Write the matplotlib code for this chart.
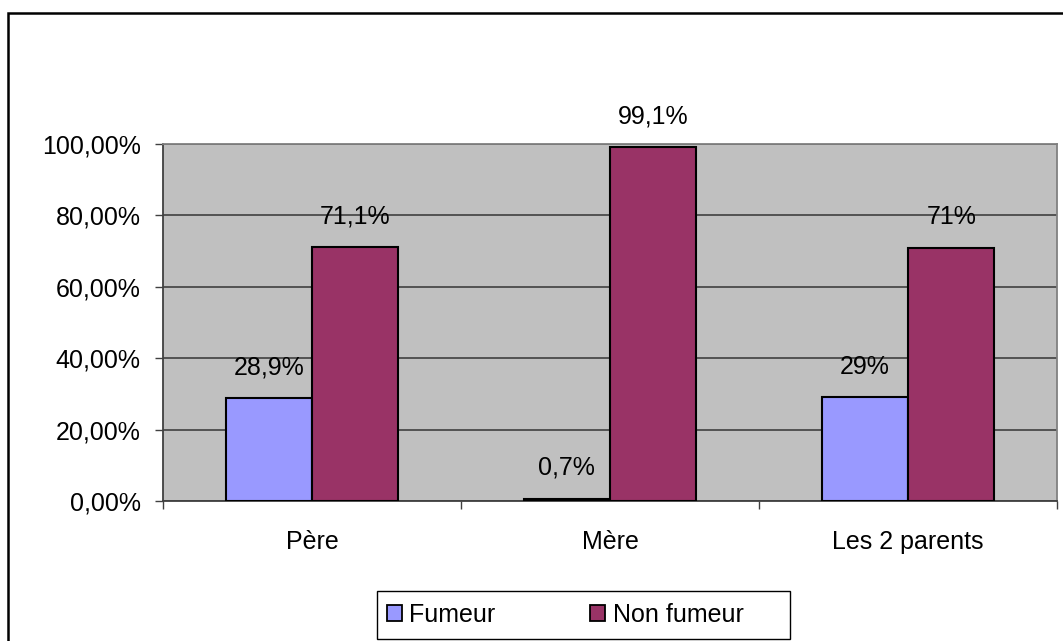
import numpy as np
import matplotlib
matplotlib.use("Agg")
import matplotlib.pyplot as plt
from matplotlib.patches import Patch, Rectangle

plt.rcParams['font.family'] = ['Liberation Sans', 'DejaVu Sans']

categories = ["Père", "Mère", "Les 2 parents"]
fumeur = [28.9, 0.7, 29.0]
non_fumeur = [71.1, 99.1, 71.0]
labels_fumeur = ["28,9%", "0,7%", "29%"]
labels_non = ["71,1%", "99,1%", "71%"]
yticks = [0, 20, 40, 60, 80, 100]
ytick_labels = ["0,00%", "20,00%", "40,00%", "60,00%", "80,00%", "100,00%"]

c_fum = "#9999FF"
c_non = "#993366"
fs = 18

W, H = 1063, 641
fig = plt.figure(figsize=(W / 100, H / 100), dpi=100)
ax = fig.add_axes([163 / W, 1 - 501 / H, (1057 - 163) / W, (501 - 144) / H])
ax.set_facecolor("#C0C0C0")

x = np.arange(len(categories))
bw = 0.29
ax.bar(x - bw / 2, fumeur, bw, color=c_fum, edgecolor="black", linewidth=1.5, zorder=3)
ax.bar(x + bw / 2, non_fumeur, bw, color=c_non, edgecolor="black", linewidth=1.5, zorder=3)

for i in range(len(categories)):
    ax.annotate(labels_fumeur[i], (x[i] - bw / 2, fumeur[i]), xytext=(0, 22),
                textcoords="offset points", ha="center", va="center", fontsize=fs, zorder=4)
    ax.annotate(labels_non[i], (x[i] + bw / 2, non_fumeur[i]), xytext=(0, 22),
                textcoords="offset points", ha="center", va="center", fontsize=fs, zorder=4)

ax.set_xlim(-0.5, len(categories) - 0.5)
ax.set_ylim(0, 100)
ax.set_yticks(yticks)
ax.set_yticklabels(ytick_labels, fontsize=fs)
ax.yaxis.grid(True, color="#404040", linewidth=1.2, zorder=1)
ax.set_axisbelow(True)

ax.set_xticks(np.arange(len(categories) + 1) - 0.5)
ax.set_xticklabels([])
ax.set_xticks(x, minor=True)
ax.set_xticklabels(categories, minor=True, fontsize=fs)
ax.tick_params(axis="x", which="minor", length=0, pad=21)
ax.tick_params(axis="x", which="major", length=6, width=1, color="#404040")
ax.tick_params(axis="y", length=6, width=1, color="#404040", pad=10)

for side in ["left", "bottom"]:
    ax.spines[side].set_color("#404040")
    ax.spines[side].set_linewidth(1.3)
for side in ["top", "right"]:
    ax.spines[side].set_color("#808080")
    ax.spines[side].set_linewidth(1.3)

handles = [Patch(facecolor=c_fum, edgecolor="black", linewidth=1.3),
           Patch(facecolor=c_non, edgecolor="black", linewidth=1.3)]
leg = fig.legend(handles, ["Fumeur", "Non fumeur"], ncol=2, loc="center left",
                 bbox_to_anchor=(379 / W, 1 - 615 / H), fontsize=fs,
                 handlelength=0.6, handleheight=0.6, handletextpad=0.3,
                 columnspacing=3.8, borderpad=0.3, borderaxespad=0,
                 frameon=False)
fig.patches.append(Rectangle((377 / W, 1 - 639 / H), (790 - 377) / W, 48 / H,
                             transform=fig.transFigure, fill=False,
                             edgecolor="black", linewidth=1.0))

fig.patches.append(Rectangle((8 / W, -0.1), 1.2, 1 - 13 / H + 0.1, transform=fig.transFigure,
                             fill=False, edgecolor="black", linewidth=1.8))

fig.savefig("out.png", dpi=100)
